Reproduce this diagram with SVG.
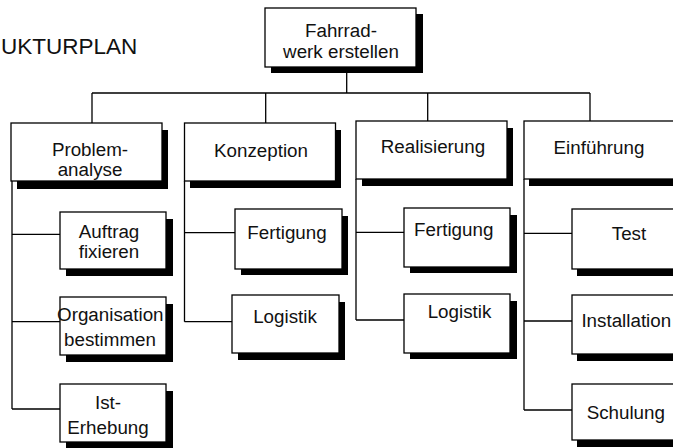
<svg xmlns="http://www.w3.org/2000/svg" width="673" height="448" viewBox="0 0 673 448">
<style>
.box{fill:#fff;stroke:#000;stroke-width:1.3}
.sh{fill:#000}
.t{font-family:"Liberation Sans",Arial,sans-serif;font-size:18.8px;fill:#111;text-anchor:middle}
.c{fill:none;stroke:#000;stroke-width:1.3}
</style>
<rect width="673" height="448" fill="#fff"/>
<text x="1" y="53.5" style="font-family:'Liberation Sans',Arial,sans-serif;font-size:22.5px;fill:#111">UKTURPLAN</text>
<g id="connectors">
<path class="c" d="M346.7 67V93M92 93H590M92 93V123M265.7 93V123M427.7 93V121M590 93V121"/>
<path class="c" d="M12 181V409M12 234.3H60M12 321.7H60M12 409H60"/>
<path class="c" d="M184.5 181V321.7M184.5 232.7H235M184.5 321.7H232"/>
<path class="c" d="M356 179V320M356 232.3H404M356 320H404"/>
<path class="c" d="M524 179V410M524 233.3H572M524 321H572M524 410H572"/>
</g>
<g id="n-top"><rect class="sh" x="271" y="14" width="152" height="59"/><rect class="box" x="265" y="8" width="151" height="59"/><text class="t" x="341" y="36.7">Fahrrad-</text><text class="t" x="341" y="58.3">werk erstellen</text></g>
<g id="n-problem"><rect class="sh" x="17" y="130" width="151" height="59"/><rect class="box" x="11" y="123" width="151" height="58"/><text class="t" x="90" y="155.7">Problem-</text><text class="t" x="90" y="175.7">analyse</text></g>
<g id="n-konzeption"><rect class="sh" x="190" y="130" width="151" height="58"/><rect class="box" x="184.5" y="123" width="151" height="58"/><text class="t" x="261" y="156.7">Konzeption</text></g>
<g id="n-realisierung"><rect class="sh" x="362" y="128" width="151" height="58"/><rect class="box" x="356" y="121" width="151" height="58"/><text class="t" x="433" y="153.3">Realisierung</text></g>
<g id="n-einfuehrung"><rect class="sh" x="529" y="128" width="160" height="58"/><rect class="box" x="524" y="121" width="160" height="58"/><text class="t" x="599" y="154.3">Einführung</text></g>
<g id="n-auftrag"><rect class="sh" x="66" y="219" width="107" height="57"/><rect class="box" x="60" y="212" width="106" height="57"/><text class="t" x="109" y="237.5">Auftrag</text><text class="t" x="109" y="258">fixieren</text></g>
<g id="n-organisation"><rect class="sh" x="66" y="304" width="107" height="58"/><rect class="box" x="60" y="297" width="106" height="58"/><text class="t" x="110.3" y="321">Organisation</text><text class="t" x="110" y="345.5">bestimmen</text></g>
<g id="n-ist"><rect class="sh" x="66" y="391" width="107" height="58"/><rect class="box" x="60" y="384" width="106" height="58"/><text class="t" x="108" y="409.3">Ist-</text><text class="t" x="108" y="434">Erhebung</text></g>
<g id="n-fertigung1"><rect class="sh" x="241" y="216" width="107" height="59"/><rect class="box" x="235" y="209" width="107" height="60"/><text class="t" x="287" y="239">Fertigung</text></g>
<g id="n-logistik1"><rect class="sh" x="238" y="302" width="107" height="58"/><rect class="box" x="232" y="295" width="107" height="58"/><text class="t" x="285" y="322.7">Logistik</text></g>
<g id="n-fertigung2"><rect class="sh" x="410" y="215" width="107" height="58"/><rect class="box" x="404" y="208" width="106" height="59"/><text class="t" x="453.7" y="235.7">Fertigung</text></g>
<g id="n-logistik2"><rect class="sh" x="410" y="301" width="107" height="58"/><rect class="box" x="404" y="294" width="106" height="59"/><text class="t" x="459.5" y="317.7">Logistik</text></g>
<g id="n-test"><rect class="sh" x="577" y="216" width="120" height="60"/><rect class="box" x="572" y="209" width="120" height="60"/><text class="t" x="629" y="240">Test</text></g>
<g id="n-installation"><rect class="sh" x="577" y="302" width="120" height="59"/><rect class="box" x="572" y="295" width="120" height="59"/><text class="t" x="626.3" y="327.3">Installation</text></g>
<g id="n-schulung"><rect class="sh" x="577" y="391" width="120" height="56"/><rect class="box" x="572" y="384" width="120" height="56"/><text class="t" x="625.8" y="419.3">Schulung</text></g>
</svg>
